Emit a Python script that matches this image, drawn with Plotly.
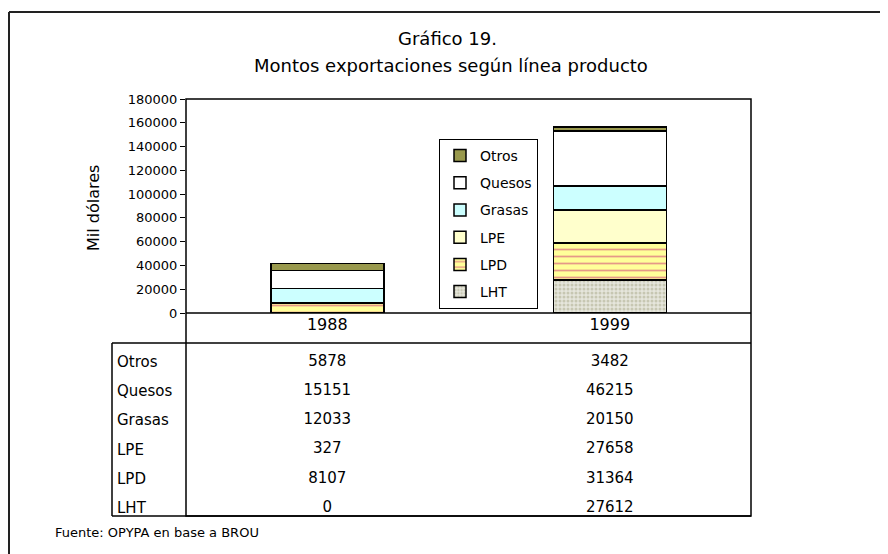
import plotly.graph_objects as go

# data
years = ["1988", "1999"]
rows = ["Otros", "Quesos", "Grasas", "LPE", "LPD", "LHT"]
otros = [5878, 3482]
quesos = [15151, 46215]
grasas = [12033, 20150]
lpe = [327, 27658]
lpd = [8107, 31364]
lht = [0, 27612]
y_ticks = list(range(0, 180001, 20000))

values = {"Otros": otros, "Quesos": quesos, "Grasas": grasas,
          "LPE": lpe, "LPD": lpd, "LHT": lht}

FONT = "DejaVu Sans"

# page has an 8px body margin, so work in screen pixels and shift back
OFF = 8
W, H = 888, 554
L, R, T, B = 186 - OFF, 751 - OFF, 99 - OFF, 516 - OFF
def px(x):
    return (x - OFF - L) / (R - L)
def py(y):
    return (B - (y - OFF)) / (B - T)

styles = {
    "LHT": dict(color="#e6e6dc", pattern=dict(shape=".", fgcolor="#a8a888", bgcolor="#e6e6dc",
                                              size=4, solidity=0.45)),
    "LPD": dict(color="#ffff99", pattern=dict(shape="-", fgcolor="#cc3377", bgcolor="#ffff99",
                                              size=7, solidity=0.25)),
    "LPE": dict(color="#ffffcc"),
    "Grasas": dict(color="#ccffff"),
    "Quesos": dict(color="#ffffff"),
    "Otros": dict(color="#99994d"),
}

fig = go.Figure()

# stacked bars, bottom first
for rank, name in list(enumerate(rows))[::-1]:
    fig.add_trace(go.Bar(
        x=years, y=values[name], name=name, legendgroup=name, legendrank=rank + 1,
        marker=dict(line=dict(color="black", width=1.5), **styles[name]),
        width=0.4,
    ))

# data table below the chart
for name in rows:
    fig.add_trace(go.Scatter(
        x=years, y=[name] * len(years), text=[str(v) for v in values[name]],
        mode="text", textfont=dict(family=FONT, size=15, color="black"),
        xaxis="x2", yaxis="y2", showlegend=False, hoverinfo="skip",
    ))

zero_dom = py(313)
table_top = py(343)

fig.update_layout(
    width=W, height=H,
    margin=dict(l=L, r=W - R, t=T, b=H - B, pad=0),
    paper_bgcolor="white", plot_bgcolor="white",
    barmode="stack",
    font=dict(family=FONT, color="black"),
    showlegend=True,
    legend=dict(x=px(439), y=py(139), xanchor="left", yanchor="top",
                bordercolor="black", borderwidth=1, bgcolor="white",
                font=dict(size=14, family=FONT), traceorder="grouped",
                tracegroupgap=6, itemwidth=30),
    xaxis=dict(type="category", domain=[0, 1], anchor="y", showgrid=False,
               showline=False, ticks="", tickfont=dict(size=16, family=FONT),
               range=[-0.5, 1.5]),
    yaxis=dict(domain=[zero_dom, 1], range=[0, 180000], tickvals=y_ticks,
               tickformat="d", showgrid=False, showline=False, zeroline=False,
               ticks="outside", ticklen=5, tickcolor="black",
               tickfont=dict(size=13, family=FONT)),
    xaxis2=dict(matches="x", anchor="y2", visible=False),
    yaxis2=dict(domain=[0, table_top], type="category", categoryorder="array",
                categoryarray=rows, range=[5.274, -0.651], visible=False),
)

# row labels of the table
for name in rows:
    fig.add_annotation(x=px(115), y=name, xref="paper", yref="y2", text=name,
                       showarrow=False, xanchor="left", yanchor="middle",
                       font=dict(family=FONT, size=15, color="black"))

# titles and notes
notes = [
    dict(x=447, y=38, text="Gráfico 19.", size=18, angle=0, anchor="center"),
    dict(x=451, y=65, text="Montos exportaciones según línea producto", size=18,
         angle=0, anchor="center"),
    dict(x=93, y=208, text="Mil dólares", size=16, angle=-90, anchor="center"),
    dict(x=53, y=532, text="Fuente: OPYPA en base a BROU", size=13, angle=0,
         anchor="left"),
]
for n in notes:
    fig.add_annotation(x=px(n["x"]), y=py(n["y"]), xref="paper", yref="paper",
                       text=n["text"], textangle=n["angle"], showarrow=False,
                       xanchor=n["anchor"], yanchor="middle",
                       font=dict(family=FONT, size=n["size"], color="black"))

# frame lines
line = dict(color="black", width=1.5)
shapes = [
    dict(type="rect", x0=0, x1=1, y0=0, y1=1),
    dict(type="line", x0=0, x1=1, y0=zero_dom, y1=zero_dom),
    dict(type="line", x0=px(112), x1=1, y0=table_top, y1=table_top),
    dict(type="line", x0=px(112), x1=px(112), y0=0, y1=table_top),
    dict(type="line", x0=px(112), x1=1, y0=0, y1=0),
]
for s in shapes:
    fig.add_shape(xref="paper", yref="paper", line=line, layer="above", **s)

# outer border (open at right and bottom)
border = dict(color="#222222", width=2)
fig.add_shape(type="line", xref="paper", yref="paper", x0=px(9), x1=px(900),
              y0=py(12), y1=py(12), line=border)
fig.add_shape(type="line", xref="paper", yref="paper", x0=px(9), x1=px(9),
              y0=py(12), y1=py(560), line=border)

fig.write_html("out.html")
